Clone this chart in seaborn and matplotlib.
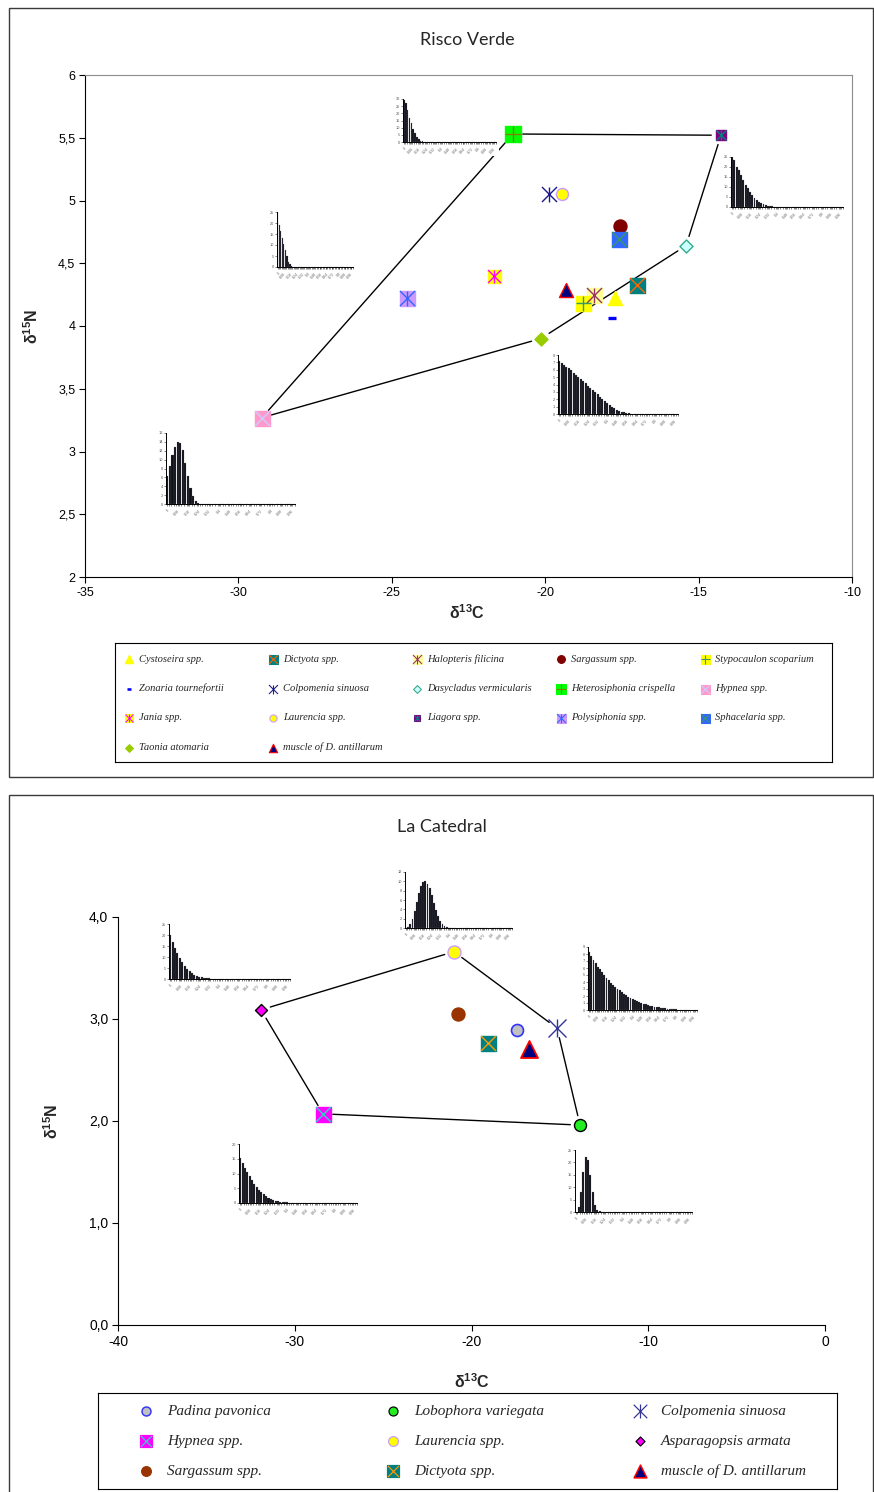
import numpy as np
import matplotlib
matplotlib.use("Agg")
import matplotlib.pyplot as plt
from matplotlib.patches import Rectangle
import seaborn as sns

W, H, DPI = 874, 1492, 100

# ---------------- data: Risco Verde ----------------
rv_species = ['Cystoseira spp.', 'Dictyota spp.', 'Halopteris filicina', 'Sargassum spp.',
              'Stypocaulon scoparium', 'Zonaria tournefortii', 'Colpomenia sinuosa',
              'Dasycladus vermicularis', 'Heterosiphonia crispella', 'Hypnea spp.',
              'Jania spp.', 'Laurencia spp.', 'Liagora spp.', 'Polysiphonia spp.',
              'Sphacelaria spp.', 'Taonia atomaria', 'muscle of D. antillarum']
rv_d13c = [-17.73, -17.01, -18.41, -17.56, -18.77, -17.82, -19.88, -15.41, -21.05, -29.23,
           -21.67, -19.45, -14.27, -24.50, -17.60, -20.14, -19.32]
rv_d15n = [4.22, 4.33, 4.25, 4.80, 4.18, 4.06, 5.05, 4.64, 5.53, 3.27,
           4.40, 5.05, 5.52, 4.22, 4.69, 3.90, 4.29]
rv_hull = ['Hypnea spp.', 'Heterosiphonia crispella', 'Liagora spp.',
           'Dasycladus vermicularis', 'Taonia atomaria']

# ---------------- data: La Catedral ----------------
lc_species = ['Padina pavonica', 'Lobophora variegata', 'Colpomenia sinuosa',
              'Hypnea spp.', 'Laurencia spp.', 'Asparagopsis armata',
              'Sargassum spp.', 'Dictyota spp.', 'muscle of D. antillarum']
lc_d13c = [-17.43, -13.86, -15.16, -28.40, -20.99, -31.91, -20.76, -19.07, -16.75]
lc_d15n = [2.89, 1.96, 2.91, 2.07, 3.66, 3.09, 3.05, 2.76, 2.71]
lc_hull = ['Laurencia spp.', 'Colpomenia sinuosa', 'Lobophora variegata',
           'Hypnea spp.', 'Asparagopsis armata']

# ---------------- posterior histograms (50 bins each) ----------------
hist_xticklabels = ['0', '0,08', '0,16', '0,24', '0,32', '0,4', '0,48', '0,56',
                    '0,64', '0,72', '0,8', '0,88', '0,96']

rv_hist_a = [29, 27, 22, 17, 13, 9.3, 6.3, 3.5, 1.8, 1.0, 0.6, 0.3, 0.15, 0.1, 0.05,
             0, 0, 0, 0, 0, 0, 0, 0, 0, 0, 0, 0, 0, 0, 0, 0, 0, 0, 0, 0,
             0, 0, 0, 0, 0, 0, 0, 0, 0, 0, 0, 0, 0, 0, 0]
rv_hist_b = [25, 19, 16.4, 13.2, 10.6, 7.6, 4.8, 2.3, 1.2, 0.5, 0.2, 0.1, 0, 0, 0,
             0, 0, 0, 0, 0, 0, 0, 0, 0, 0, 0, 0, 0, 0, 0, 0, 0, 0, 0, 0,
             0, 0, 0, 0, 0, 0, 0, 0, 0, 0, 0, 0, 0, 0, 0]
rv_hist_c = [25, 23.5, 20, 18.5, 16, 13.5, 11.2, 9.5, 7.7, 6.1, 4.7, 3.6, 2.7, 2.0, 1.5,
             1.05, 0.7, 0.45, 0.3, 0.18, 0.1, 0.05, 0, 0, 0, 0, 0, 0, 0, 0, 0, 0, 0, 0, 0,
             0, 0, 0, 0, 0, 0, 0, 0, 0, 0, 0, 0, 0, 0, 0]
rv_hist_d = [7.2, 6.9, 6.6, 6.4, 6.2, 5.9, 5.6, 5.35, 5.05, 4.75, 4.45, 4.15, 3.85, 3.55, 3.25,
             2.95, 2.65, 2.35, 2.05, 1.75, 1.5, 1.25, 1.0, 0.8, 0.6, 0.45, 0.32, 0.22, 0.15, 0.1,
             0.06, 0.04, 0.02, 0, 0, 0, 0, 0, 0, 0, 0, 0, 0, 0, 0, 0, 0, 0, 0, 0]
rv_hist_e = [6.3, 8.6, 11, 12.9, 14, 13.8, 12.2, 9.3, 6.2, 3.5, 1.7, 0.7, 0.3, 0.1, 0,
             0, 0, 0, 0, 0, 0, 0, 0, 0, 0, 0, 0, 0, 0, 0, 0, 0, 0, 0, 0,
             0, 0, 0, 0, 0, 0, 0, 0, 0, 0, 0, 0, 0, 0, 0]

lc_hist_a = [0, 0.3, 0.9, 2.0, 3.6, 5.5, 7.4, 8.9, 9.8, 10, 9.5, 8.5, 7.0, 5.4, 3.9,
             2.6, 1.6, 0.9, 0.4, 0.2, 0.1, 0, 0, 0, 0, 0, 0, 0, 0, 0, 0, 0, 0, 0, 0,
             0, 0, 0, 0, 0, 0, 0, 0, 0, 0, 0, 0, 0, 0, 0]
lc_hist_b = [20, 17, 14.2, 11.7, 9.5, 7.6, 6.0, 4.6, 3.5, 2.6, 1.9, 1.4, 1.0, 0.7, 0.5,
             0.35, 0.25, 0.15, 0.1, 0.05, 0, 0, 0, 0, 0, 0, 0, 0, 0, 0, 0, 0, 0, 0, 0,
             0, 0, 0, 0, 0, 0, 0, 0, 0, 0, 0, 0, 0, 0, 0]
lc_hist_c = [8.3, 7.7, 7.2, 6.7, 6.2, 5.8, 5.4, 5.0, 4.6, 4.25, 3.9, 3.6, 3.3, 3.05, 2.8,
             2.55, 2.3, 2.1, 1.9, 1.72, 1.55, 1.4, 1.25, 1.12, 1.0, 0.9, 0.8, 0.7, 0.62, 0.55,
             0.48, 0.42, 0.36, 0.31, 0.26, 0.22, 0.18, 0.15, 0.12, 0.1, 0.08, 0.06, 0.05, 0.04,
             0.03, 0.02, 0.01, 0, 0, 0]
lc_hist_d = [15.3, 13.5, 12, 10.5, 9.1, 7.7, 6.4, 5.3, 4.4, 3.6, 2.9, 2.3, 1.8, 1.4, 1.05,
             0.8, 0.6, 0.45, 0.33, 0.24, 0.17, 0.12, 0.08, 0.05, 0.03, 0, 0, 0, 0, 0, 0, 0, 0, 0, 0,
             0, 0, 0, 0, 0, 0, 0, 0, 0, 0, 0, 0, 0, 0, 0]
lc_hist_e = [0, 2, 8, 16, 22, 21, 15, 8, 3, 1, 0.3, 0, 0, 0, 0,
             0, 0, 0, 0, 0, 0, 0, 0, 0, 0, 0, 0, 0, 0, 0, 0, 0, 0, 0, 0,
             0, 0, 0, 0, 0, 0, 0, 0, 0, 0, 0, 0, 0, 0, 0]

# ---------------- marker styles (size = extent in pixels) ----------------
STAR = ['x', '|']
rv_style = {
    'Cystoseira spp.': dict(m='^', fc='#FFFF00', ec='#FFFF00', sz=14),
    'Dictyota spp.': dict(m='s', fc='#008080', ec='#008080', sz=15, ov=['x'], oc='#FF6600'),
    'Halopteris filicina': dict(m='s', fc='#FFFF99', ec='#FFFF99', sz=15, ov=STAR, oc='#993366'),
    'Sargassum spp.': dict(m='o', fc='#800000', ec='#800000', sz=13),
    'Stypocaulon scoparium': dict(m='s', fc='#FFFF00', ec='#FFFF00', sz=15, ov=['+'], oc='#339966'),
    'Zonaria tournefortii': dict(m='_', fc='#0000FF', ec='#0000FF', sz=8, lw=2.4),
    'Colpomenia sinuosa': dict(m=None, sz=15, ov=STAR, oc='#1a1a8c'),
    'Dasycladus vermicularis': dict(m='D', fc='#CCFFFF', ec='#33AA88', sz=13),
    'Heterosiphonia crispella': dict(m='s', fc='#00FF00', ec='#00FF00', sz=16, ov=['+'], oc='#808000'),
    'Hypnea spp.': dict(m='s', fc='#FF99CC', ec='#FF99CC', sz=15, ov=['x'], oc='#CCCCFF'),
    'Jania spp.': dict(m='s', fc='#FFFF00', ec='#FFFF00', sz=13, ov=STAR, oc='#FF00FF'),
    'Laurencia spp.': dict(m='o', fc='#FFFF00', ec='#CC99FF', sz=12),
    'Liagora spp.': dict(m='s', fc='#800080', ec='#800080', sz=10, ov=STAR, oc='#008080'),
    'Polysiphonia spp.': dict(m='s', fc='#CC99FF', ec='#CC99FF', sz=15, ov=STAR, oc='#3366FF'),
    'Sphacelaria spp.': dict(m='s', fc='#3366FF', ec='#3366FF', sz=15, ov=['x'], oc='#339966'),
    'Taonia atomaria': dict(m='D', fc='#99CC00', ec='#99CC00', sz=13),
    'muscle of D. antillarum': dict(m='^', fc='#000080', ec='#FF0000', sz=14),
}
lc_style = {
    'Padina pavonica': dict(m='o', fc='#C0C0C0', ec='#3333FF', sz=12, lw=1.2),
    'Lobophora variegata': dict(m='o', fc='#22EE22', ec='#000000', sz=12),
    'Colpomenia sinuosa': dict(m=None, sz=18, ov=STAR, oc='#333399'),
    'Hypnea spp.': dict(m='s', fc='#FF00FF', ec='#FF00FF', sz=15, ov=['x'], oc='#33CCCC'),
    'Laurencia spp.': dict(m='o', fc='#FFFF00', ec='#CC99FF', sz=13),
    'Asparagopsis armata': dict(m='D', fc='#FF00FF', ec='#000000', sz=12),
    'Sargassum spp.': dict(m='o', fc='#993300', ec='#993300', sz=13),
    'Dictyota spp.': dict(m='s', fc='#008080', ec='#008080', sz=15, ov=['x'], oc='#FF9900'),
    'muscle of D. antillarum': dict(m='^', fc='#000080', ec='#FF0000', sz=17, lw=1.3),
}

sns.set_theme(style='ticks')
plt.rcParams['font.family'] = ['Liberation Sans', 'DejaVu Sans']
plt.rcParams['mathtext.fontset'] = 'custom'
plt.rcParams['mathtext.rm'] = 'Liberation Sans'
plt.rcParams['mathtext.bf'] = 'Liberation Sans:bold'
plt.rcParams['mathtext.it'] = 'Liberation Sans:italic'

fig = plt.figure(figsize=(W / DPI, H / DPI), dpi=DPI)
fig.patch.set_facecolor('white')


def frac(x0, y0, x1, y1):
    """pixel box (top-left origin) -> figure-fraction rect"""
    return [x0 / W, 1 - y1 / H, (x1 - x0) / W, (y1 - y0) / H]


def pt_area(px):
    return (px * 72.0 / DPI) ** 2


def draw_marker(ax, xs, ys, st, scale=1.0, z=5):
    sz = st['sz'] * scale
    lw_scale = min(scale, 1.0) ** 0.5
    if st.get('m'):
        eff = sz / 1.41 if st['m'] == 'D' else sz
        sns.scatterplot(x=xs, y=ys, marker=st['m'], s=pt_area(eff), color=st['fc'],
                        edgecolor=st['ec'], linewidth=st.get('lw', 1.0) * lw_scale,
                        ax=ax, zorder=z, legend=False)
    for ov in st.get('ov', []):
        sns.scatterplot(x=xs, y=ys, marker=ov, s=pt_area(sz), color=st['oc'],
                        linewidth=1.0 * lw_scale, ax=ax, zorder=z + 1, legend=False)


def hull_lines(ax, names, species, xs, ys):
    pos = {n: (x, y) for n, x, y in zip(species, xs, ys)}
    for a, b in zip(names, names[1:] + names[:1]):
        ax.annotate('', xy=pos[b], xytext=pos[a],
                    arrowprops=dict(arrowstyle='-', color='black', lw=1.0,
                                    shrinkA=7, shrinkB=7), zorder=3)


def inset_hist(box, values, ymax, ystep):
    x0, x1, yb, yt = box
    # white card behind the small chart, hiding the hull lines under it
    fig.patches.append(Rectangle(((x0 - 13) / W, 1 - (yb + 14) / H),
                                 (x1 - x0 + 16) / W, (yb - yt + 18) / H,
                                 transform=fig.transFigure, facecolor='white',
                                 edgecolor='none', zorder=3))
    ia = fig.add_axes(frac(x0, yt, x1, yb))
    ia.set_zorder(4)
    ia.patch.set_alpha(0)
    idx = np.arange(len(values))
    sns.barplot(x=idx, y=values, color='#101018', width=0.85, saturation=1,
                edgecolor='#6a6a7a', linewidth=0.15, ax=ia)
    ia.set_xlim(-0.5, len(values) - 0.5)
    ia.set_ylim(0, ymax)
    yt_vals = np.arange(0, ymax + ystep / 2, ystep)
    ia.set_yticks(yt_vals)
    ia.set_yticklabels([f'{v:g}' for v in yt_vals], fontsize=2.8, color='#555555')
    ia.set_xticks(np.arange(0, len(values), 4))
    ia.set_xticklabels(hist_xticklabels, fontsize=2.6, color='#666666', rotation=45,
                       ha='right', rotation_mode='anchor')
    ia.set_xticks(np.arange(len(values)) + 0.5, minor=True)
    ia.tick_params(axis='x', which='major', length=1.5, width=0.4, pad=1.5)
    ia.tick_params(axis='x', which='minor', length=1.5, width=0.4)
    ia.tick_params(axis='y', length=1.2, width=0.4, pad=1)
    ia.set_xlabel('')
    ia.set_ylabel('')
    for s in ('top', 'right'):
        ia.spines[s].set_visible(False)
    for s in ('left', 'bottom'):
        ia.spines[s].set_linewidth(0.7)
        ia.spines[s].set_color('black')
    return ia


def style_main(ax, xticks, yticks, ylabels, fs, box_all):
    ax.set_xticks(xticks)
    ax.set_xticklabels([str(v) for v in xticks], fontsize=fs)
    ax.set_yticks(yticks)
    ax.set_yticklabels(ylabels, fontsize=fs)
    ax.tick_params(direction='out', length=4, width=0.8, colors='black', pad=3)
    for s in ('left', 'bottom'):
        ax.spines[s].set_color('black')
        ax.spines[s].set_linewidth(0.8)
    for s in ('top', 'right'):
        ax.spines[s].set_visible(box_all)
        ax.spines[s].set_color('#8c8c8c')
        ax.spines[s].set_linewidth(0.8)
    ax.set_xlabel(r'$\mathbf{δ^{13}C}$', fontsize=11.5)
    ax.set_ylabel(r'$\mathbf{δ^{15}N}$', fontsize=11.5)


def legend_box(box, species, styles, ncol, col0, dcol, row0, drow, tdx, fs, mscale):
    x0, y0, x1, y1 = box
    la = fig.add_axes(frac(x0, y0, x1, y1))
    la.set_xticks([])
    la.set_yticks([])
    for s in la.spines.values():
        s.set_color('black')
        s.set_linewidth(0.8)
        s.set_visible(True)
    for i, name in enumerate(species):
        c, r = i % ncol, i // ncol
        mx, my = col0 + c * dcol, row0 + r * drow
        draw_marker(la, [mx], [my], styles[name], scale=mscale)
        la.text(mx + tdx, my, name, fontsize=fs, style='italic',
                family=['Liberation Serif', 'DejaVu Serif'], va='center', ha='left')
    la.set_xlim(x0, x1)
    la.set_ylim(y1, y0)


# ---------------- outer frames ----------------
fig.patches.append(Rectangle((9 / W, 1 - 777 / H), 864 / W, 769 / H, transform=fig.transFigure,
                             fill=False, edgecolor='#3a3a3a', lw=1.0, zorder=0))
fig.patches.append(Rectangle((9 / W, 1 - 1500 / H), 864 / W, 705 / H, transform=fig.transFigure,
                             fill=False, edgecolor='#3a3a3a', lw=1.0, zorder=0))

# ---------------- Risco Verde ----------------
ax1 = fig.add_axes(frac(85, 75, 852, 577))
hull_lines(ax1, rv_hull, rv_species, rv_d13c, rv_d15n)
for name, x, y in zip(rv_species, rv_d13c, rv_d15n):
    draw_marker(ax1, [x], [y], rv_style[name])
rv_yt = [2, 2.5, 3, 3.5, 4, 4.5, 5, 5.5, 6]
style_main(ax1, [-35, -30, -25, -20, -15, -10], rv_yt,
           [f'{v:g}'.replace('.', ',') for v in rv_yt], 9, True)
ax1.set_xlim(-35, -10)
ax1.set_ylim(2, 6)
ax1.xaxis.set_label_coords(0.498, -0.052)
ax1.yaxis.set_label_coords(-0.058, 0.5)
fig.text(467 / W, 1 - 40 / H, 'Risco Verde', ha='center', va='center', fontsize=13,
         family=['Lato', 'DejaVu Sans'])

inset_hist((403, 496, 142, 99), rv_hist_a, 30, 5)
inset_hist((277, 353, 267, 212), rv_hist_b, 25, 5)
inset_hist((731, 843, 207, 157), rv_hist_c, 25, 5)
inset_hist((558, 678, 414, 355), rv_hist_d, 8, 1)
inset_hist((166, 295, 504, 433), rv_hist_e, 16, 2)

legend_box((115, 643, 832, 762), rv_species, rv_style, 5, 129, 144, 659, 29.5, 10, 7.6, 0.6)

# ---------------- La Catedral ----------------
ax2 = fig.add_axes(frac(118, 917, 825, 1325))
hull_lines(ax2, lc_hull, lc_species, lc_d13c, lc_d15n)
for name, x, y in zip(lc_species, lc_d13c, lc_d15n):
    draw_marker(ax2, [x], [y], lc_style[name])
lc_yt = [0, 1, 2, 3, 4]
style_main(ax2, [-40, -30, -20, -10, 0], lc_yt,
           [f'{v:.1f}'.replace('.', ',') for v in lc_yt], 10, False)
ax2.set_xlim(-40, 0)
ax2.set_ylim(0, 4)
ax2.xaxis.set_label_coords(0.5, -0.115)
ax2.yaxis.set_label_coords(-0.08, 0.5)
fig.text(442 / W, 1 - 827 / H, 'La Catedral', ha='center', va='center', fontsize=13,
         family=['Lato', 'DejaVu Sans'])

inset_hist((405, 512, 928, 872), lc_hist_a, 12, 2)
inset_hist((169, 290, 979, 924), lc_hist_b, 25, 5)
inset_hist((588, 697, 1010, 947), lc_hist_c, 9, 1)
inset_hist((239, 357, 1203, 1144), lc_hist_d, 20, 5)
inset_hist((575, 692, 1212, 1150), lc_hist_e, 25, 5)

legend_box((98, 1393, 837, 1489), lc_species, lc_style, 3, 146, 247, 1411, 30, 21, 11, 0.75)

fig.savefig('out.png', dpi=DPI, facecolor='white')
